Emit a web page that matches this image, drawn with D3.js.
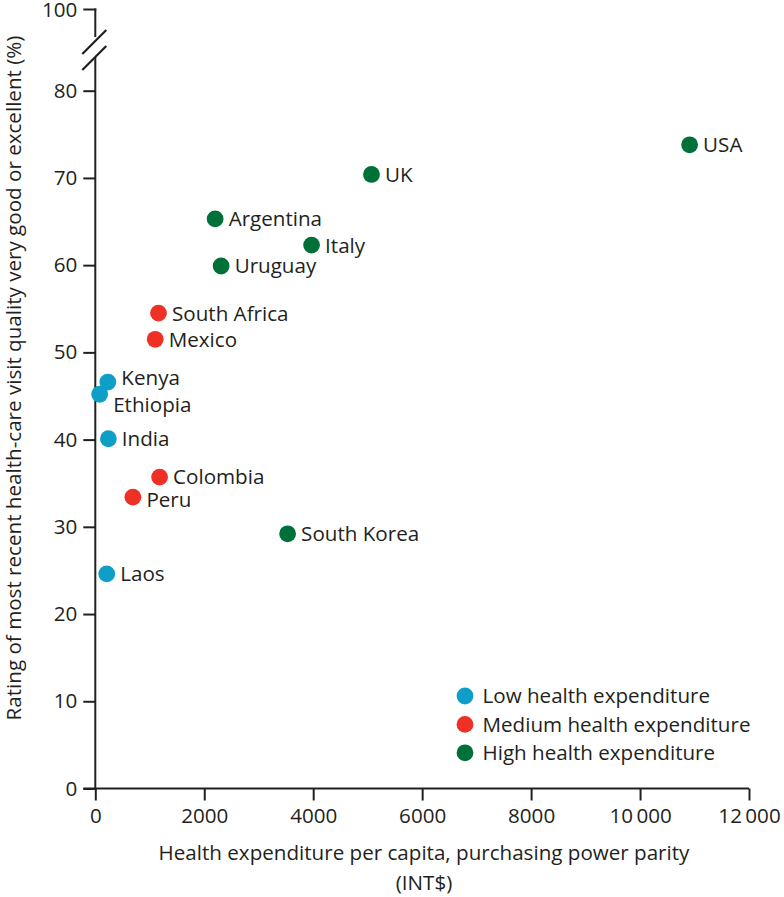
<!DOCTYPE html>
<html>
<head>
<meta charset="utf-8">
<script src="https://cdn.jsdelivr.net/npm/d3@7"></script>
<style>
  html, body { margin: 0; padding: 0; background: #fff; }
  svg text { font-family: "Open Sans", sans-serif; fill: #231f20; }
</style>
</head>
<body>
<svg id="chart" width="784" height="897"></svg>
<script>
// ---- data ----
const countries = ["USA", "UK", "Argentina", "Italy", "Uruguay", "South Africa", "Mexico",
                   "Kenya", "Ethiopia", "India", "Colombia", "Peru", "South Korea", "Laos"];
const expenditure = [10910, 5070, 2200, 3970, 2310, 1160, 1100, 230, 80, 240, 1180, 690, 3530, 210];
const rating = [73.8, 70.4, 65.3, 62.3, 59.9, 54.5, 51.5, 46.6, 45.2, 40.1, 35.7, 33.4, 29.2, 24.6];
const group = ["High", "High", "High", "High", "High", "Medium", "Medium",
               "Low", "Low", "Low", "Medium", "Medium", "High", "Low"];
const groups = ["Low", "Medium", "High"];
const legendLabels = ["Low health expenditure", "Medium health expenditure", "High health expenditure"];
const xTicks = [0, 2000, 4000, 6000, 8000, 10000, 12000];
const yTicks = [0, 10, 20, 30, 40, 50, 60, 70, 80];
const yBreakTick = 100;
const xTitle = ["Health expenditure per capita, purchasing power parity", "(INT$)"];
const yTitle = "Rating of most recent health-care visit quality very good or excellent (%)";

// ---- layout ----
const svg = d3.select("#chart");
const ink = "#231f20";
const colors = d3.scaleOrdinal().domain(groups).range(["#0f9ec8", "#ee3124", "#007039"]);
const x = d3.scaleLinear().domain([0, 12000]).range([95.3, 749]);
const y = d3.scaleLinear().domain([0, 80]).range([788.5, 90.7]);
const yBreakPos = 9.5;
const fs = 20.6;

const labelNudge = { "Kenya": -4, "Ethiopia": 10, "Colombia": -1, "Peru": 2 };

// x axis
const xAxis = d3.axisBottom(x).tickValues(xTicks).tickSize(12).tickSizeOuter(0)
  .tickPadding(8)
  .tickFormat(d => d >= 10000 ? d3.format(",")(d).replace(",", "\u2009") : String(d));
const gx = svg.append("g").attr("transform", `translate(0,${y(0)})`).call(xAxis);
gx.select(".domain").remove();
gx.selectAll("line").attr("stroke", ink).attr("stroke-width", 2);
gx.selectAll("text").attr("font-size", fs).attr("fill", ink).style("font-family", "'Open Sans', sans-serif");

// y axis
const yAxis = d3.axisLeft(y).tickValues(yTicks).tickSize(12).tickSizeOuter(0).tickPadding(6);
const gy = svg.append("g").attr("transform", `translate(${x(0)},0)`).call(yAxis);
gy.select(".domain").remove();
gy.selectAll("line").attr("stroke", ink).attr("stroke-width", 2);
gy.selectAll("text").attr("font-size", fs).attr("fill", ink).style("font-family", "'Open Sans', sans-serif");

// axis lines
const x0 = x(0);
svg.append("line").attr("x1", x0 - 12).attr("x2", x(12000)).attr("y1", y(0)).attr("y2", y(0))
  .attr("stroke", ink).attr("stroke-width", 2);
svg.append("line").attr("x1", x0).attr("x2", x0).attr("y1", y(0) + 1).attr("y2", 57)
  .attr("stroke", ink).attr("stroke-width", 2);
// top segment with break tick 100
svg.append("line").attr("x1", x0).attr("x2", x0).attr("y1", yBreakPos - 1).attr("y2", 37)
  .attr("stroke", ink).attr("stroke-width", 2);
svg.append("line").attr("x1", x0 - 12).attr("x2", x0 + 1).attr("y1", yBreakPos).attr("y2", yBreakPos)
  .attr("stroke", ink).attr("stroke-width", 2);
svg.append("text").attr("x", x0 - 18).attr("y", yBreakPos).attr("dy", "0.34em")
  .attr("text-anchor", "end").attr("font-size", fs).text(yBreakTick);
// break marks
[[54, 30], [70, 46]].forEach(([ya, yb]) => {
  svg.append("line").attr("x1", x0 - 13).attr("y1", ya).attr("x2", x0 + 11).attr("y2", yb)
    .attr("stroke", ink).attr("stroke-width", 2.2);
});

// points
const data = countries.map((c, i) => ({ c, x: expenditure[i], y: rating[i], g: group[i] }));
svg.append("g").selectAll("circle").data(data).join("circle")
  .attr("cx", d => x(d.x)).attr("cy", d => y(d.y)).attr("r", 8.4)
  .attr("fill", d => colors(d.g));
svg.append("g").selectAll("text").data(data).join("text")
  .attr("x", d => x(d.x) + 13.5)
  .attr("y", d => y(d.y) + (labelNudge[d.c] || 0))
  .attr("dy", "0.36em")
  .attr("font-size", fs)
  .text(d => d.c);

// legend
const lg = svg.append("g");
groups.forEach((g, i) => {
  const ly = 696 + i * 28.4;
  lg.append("circle").attr("cx", 465).attr("cy", ly).attr("r", 8.4).attr("fill", colors(g));
  lg.append("text").attr("x", 482.5).attr("y", ly).attr("dy", "0.36em").attr("font-size", fs)
    .text(legendLabels[i]);
});

// titles
svg.append("text").attr("x", 424).attr("y", 860).attr("text-anchor", "middle")
  .attr("font-size", fs).text(xTitle[0]);
svg.append("text").attr("x", 424).attr("y", 890).attr("text-anchor", "middle")
  .attr("font-size", fs).text(xTitle[1]);
svg.append("text").attr("transform", "translate(21,378) rotate(-90)")
  .attr("text-anchor", "middle").attr("font-size", fs).text(yTitle);
</script>
</body>
</html>
